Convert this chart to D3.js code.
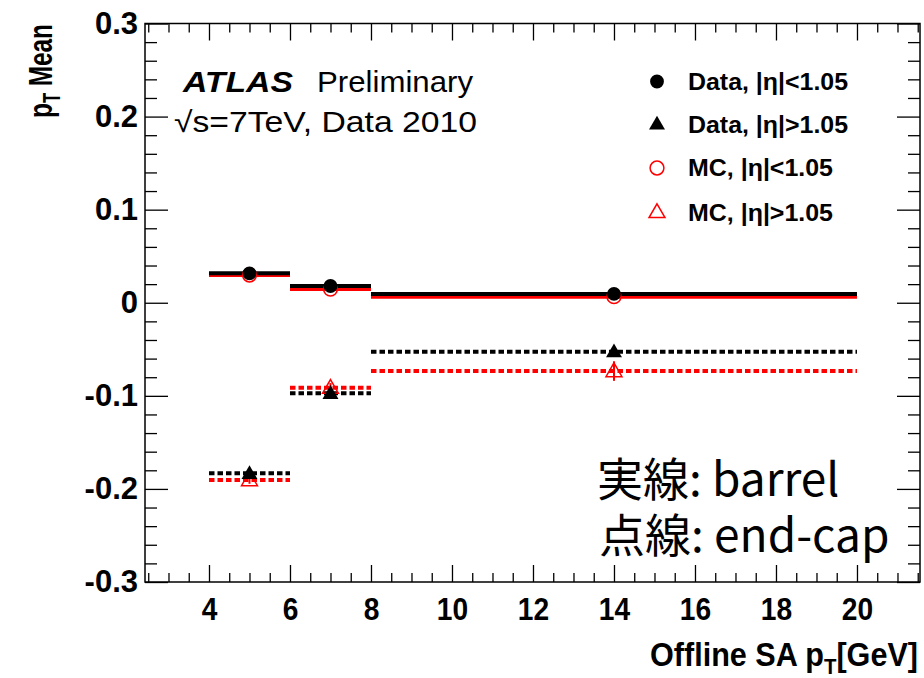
<!DOCTYPE html>
<html><head><meta charset="utf-8">
<script src="https://cdn.jsdelivr.net/npm/d3@7"></script>
<style>
html,body{margin:0;padding:0;background:#fff;}
svg{display:block;}
text{font-family:"Liberation Sans",Arial,Helvetica,sans-serif;}
</style></head>
<body>
<svg id="c" width="924" height="678"></svg>
<script>
// ---- data ----
const binLow    = [4, 6, 8];
const binHigh   = [6, 8, 20];
const binMarker = [5, 7, 14];
const dataBarrel = [0.0316, 0.0180, 0.0095];
const mcBarrel   = [0.0298, 0.0147, 0.0065];
const dataEndcap = [-0.1833, -0.0973, -0.0526];
const mcEndcap   = [-0.1905, -0.0913, -0.0734];
const dataBarrelErr = [0.002, 0.002, 0.002];
const mcBarrelErr   = [0.002, 0.002, 0.002];
const dataEndcapErr = [0.004, 0.004, 0.004];
const mcEndcapErr   = [0.004, 0.005, 0.0105];
const xTicks = [4, 6, 8, 10, 12, 14, 16, 18, 20];
const yTicks = [-0.3, -0.2, -0.1, 0, 0.1, 0.2, 0.3];
const yTickLabels = ["-0.3", "-0.2", "-0.1", "0", "0.1", "0.2", "0.3"];
const legendLabels = ["Data, |η|<1.05", "Data, |η|>1.05", "MC, |η|<1.05", "MC, |η|>1.05"];

const svg = d3.select("#c");
const L = 145, R = 920, T = 23.5, B = 582;
const x = d3.scaleLinear().domain([2.42, 21.556]).range([L, R]);
const y = d3.scaleLinear().domain([-0.3, 0.3]).range([B, T]);

const xMinor = d3.range(2.5, 21.51, 0.5).filter(v => Math.abs(v/2 - Math.round(v/2)) > 1e-6 || v < 4 || v > 20);
const yMinor = d3.range(-0.28, 0.281, 0.02).filter(v => Math.abs(v*10 - Math.round(v*10)) > 1e-6);

const fmtY = d => yTickLabels[yTicks.findIndex(t => Math.abs(t - d) < 1e-9)];

function styleAxis(g){ g.select(".domain").remove(); g.selectAll("line").attr("stroke","#000").attr("stroke-width",1.3); }

// bottom
svg.append("g").attr("transform",`translate(0,${B})`)
  .call(d3.axisBottom(x).tickValues(xTicks).tickSizeInner(-17).tickSizeOuter(0).tickPadding(15).tickFormat(d3.format("d")))
  .call(styleAxis)
  .selectAll("text").attr("font-size",32).attr("font-weight","bold").attr("fill","#000")
  .attr("transform","scale(0.88,1)");
svg.append("g").attr("transform",`translate(0,${B})`)
  .call(d3.axisBottom(x).tickValues(xMinor).tickSizeInner(-9).tickSizeOuter(0).tickFormat(""))
  .call(styleAxis);
// top
svg.append("g").attr("transform",`translate(0,${T})`)
  .call(d3.axisTop(x).tickValues(xTicks).tickSizeInner(-17).tickSizeOuter(0).tickFormat(""))
  .call(styleAxis);
svg.append("g").attr("transform",`translate(0,${T})`)
  .call(d3.axisTop(x).tickValues(xMinor).tickSizeInner(-9).tickSizeOuter(0).tickFormat(""))
  .call(styleAxis);
// left
svg.append("g").attr("transform",`translate(${L},0)`)
  .call(d3.axisLeft(y).tickValues(yTicks).tickSizeInner(-23).tickSizeOuter(0).tickPadding(7).tickFormat(fmtY))
  .call(styleAxis)
  .selectAll("text").attr("font-size",31).attr("font-weight","bold").attr("fill","#000");
svg.append("g").attr("transform",`translate(${L},0)`)
  .call(d3.axisLeft(y).tickValues(yMinor).tickSizeInner(-12).tickSizeOuter(0).tickFormat(""))
  .call(styleAxis);
// right
svg.append("g").attr("transform",`translate(${R},0)`)
  .call(d3.axisRight(y).tickValues(yTicks).tickSizeInner(-23).tickSizeOuter(0).tickFormat(""))
  .call(styleAxis);
svg.append("g").attr("transform",`translate(${R},0)`)
  .call(d3.axisRight(y).tickValues(yMinor).tickSizeInner(-12).tickSizeOuter(0).tickFormat(""))
  .call(styleAxis);

// frame
svg.append("rect").attr("x",L).attr("y",T).attr("width",R-L).attr("height",B-T)
  .attr("fill","none").attr("stroke","#000").attr("stroke-width",1.5);

// series
const series = [
  {vals: mcBarrel,   errs: mcBarrelErr,   color:"red",  dash:null, marker:"circle",   fill:false},
  {vals: dataBarrel, errs: dataBarrelErr, color:"#000", dash:null, marker:"circle",   fill:true},
  {vals: mcEndcap,   errs: mcEndcapErr,   color:"red",  dash:"5.5,3", marker:"triangle", fill:false},
  {vals: dataEndcap, errs: dataEndcapErr, color:"#000", dash:"5.5,3", marker:"triangle", fill:true},
];
const plot = svg.append("g");
series.forEach(s => {
  const g = plot.append("g");
  g.selectAll("line.h").data(s.vals).join("line")
    .attr("x1",(d,i)=>x(binLow[i])).attr("x2",(d,i)=>x(binHigh[i]))
    .attr("y1",d=>y(d)).attr("y2",d=>y(d))
    .attr("stroke",s.color).attr("stroke-width",4)
    .attr("stroke-dasharray",s.dash);
  g.selectAll("line.e").data(s.vals).join("line")
    .attr("x1",(d,i)=>x(binMarker[i])).attr("x2",(d,i)=>x(binMarker[i]))
    .attr("y1",(d,i)=>y(d - s.errs[i])).attr("y2",(d,i)=>y(d + s.errs[i]))
    .attr("stroke",s.color).attr("stroke-width",2);
});
series.forEach(s => {
  const sym = d3.symbol().type(s.marker==="circle"? d3.symbolCircle : d3.symbolTriangle)
    .size(s.marker==="circle"? 150 : 110);
  plot.append("g").selectAll("path").data(s.vals).join("path")
    .attr("d", sym)
    .attr("transform",(d,i)=>`translate(${x(binMarker[i])},${y(d) + (s.marker==="triangle"?1:0)})`)
    .attr("fill", s.fill ? s.color : "#fff")
    .attr("fill-opacity", s.fill ? 1 : 0)
    .attr("stroke", s.color).attr("stroke-width", s.fill?0:1.5);
});

// legend
const legMarkers = [
  {type:d3.symbolCircle, color:"#000", fill:true, size:150},
  {type:d3.symbolTriangle, color:"#000", fill:true, size:110},
  {type:d3.symbolCircle, color:"red", fill:false, size:150},
  {type:d3.symbolTriangle, color:"red", fill:false, size:110},
];
const legY = [81.5, 125, 168, 213];
const legW = [160, 160, 145, 145];
legendLabels.forEach((t,i) => {
  svg.append("path").attr("d", d3.symbol().type(legMarkers[i].type).size(legMarkers[i].size)())
    .attr("transform",`translate(657,${legY[i]})`)
    .attr("fill", legMarkers[i].fill ? legMarkers[i].color : "none")
    .attr("stroke", legMarkers[i].color).attr("stroke-width", legMarkers[i].fill?0:1.5);
  svg.append("text").attr("x",688).attr("y",legY[i]+8).attr("font-size",24).attr("font-weight","bold")
    .attr("textLength",legW[i]).attr("lengthAdjust","spacingAndGlyphs")
    .text(t);
});

// ATLAS label
svg.append("text").attr("x",183).attr("y",92).attr("font-size",29).attr("font-weight","bold").attr("font-style","italic")
  .attr("textLength",110).attr("lengthAdjust","spacingAndGlyphs").text("ATLAS");
svg.append("text").attr("x",317).attr("y",92).attr("font-size",29)
  .attr("textLength",156).attr("lengthAdjust","spacingAndGlyphs").text("Preliminary");
svg.append("text").attr("x",174).attr("y",132).attr("font-size",29)
  .attr("textLength",303).attr("lengthAdjust","spacingAndGlyphs").text("√s=7TeV, Data 2010");

// axis titles
const xt = svg.append("text").attr("x",918).attr("y",666).attr("text-anchor","end").attr("font-size",33).attr("font-weight","bold")
  .attr("textLength",268).attr("lengthAdjust","spacingAndGlyphs");
xt.append("tspan").text("Offline SA p");
xt.append("tspan").attr("font-size",22).attr("dy",8).text("T");
xt.append("tspan").attr("dy",-8).text("[GeV]");

const yt = svg.append("text").attr("transform","translate(52,24) rotate(-90)").attr("text-anchor","end").attr("font-size",34).attr("font-weight","bold")
  .attr("textLength",94).attr("lengthAdjust","spacingAndGlyphs");
yt.append("tspan").text("p");
yt.append("tspan").attr("font-size",23).attr("dy",8).text("T");
yt.append("tspan").attr("dy",-8).text(" Mean");

// Japanese annotation
svg.append("text").attr("x",597).attr("y",496).attr("font-size",46)
  .style("font-family",'"Noto Sans CJK JP",sans-serif').text("実線: barrel");
svg.append("text").attr("x",599).attr("y",552).attr("font-size",46)
  .style("font-family",'"Noto Sans CJK JP",sans-serif').text("点線: end-cap");
</script>
</body></html>
